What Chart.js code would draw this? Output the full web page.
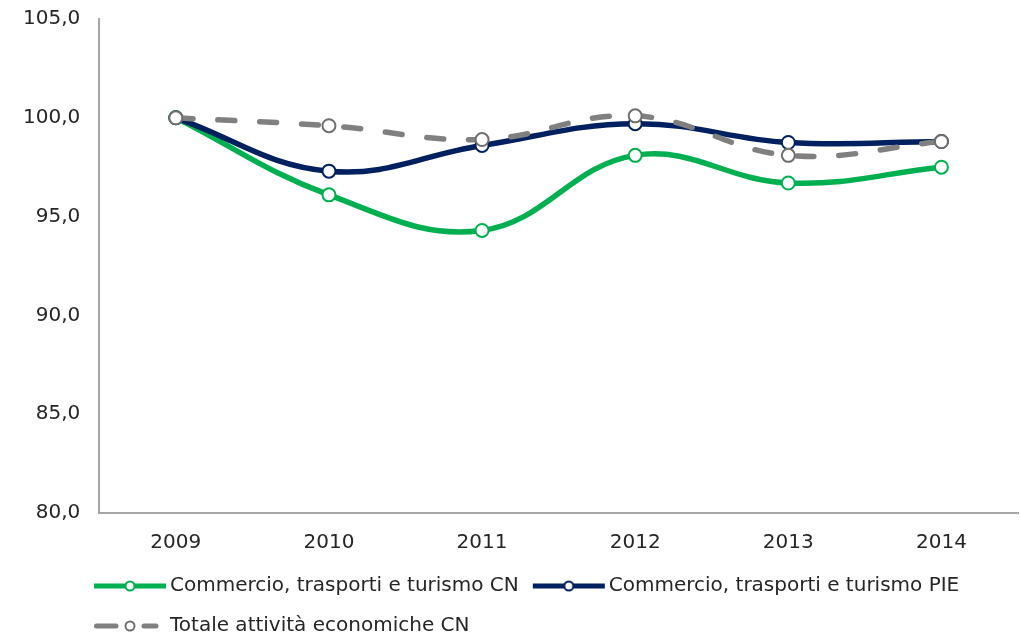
<!DOCTYPE html>
<html lang="it">
<head>
<meta charset="utf-8">
<title>Commercio, trasporti e turismo</title>
<script src="https://cdn.jsdelivr.net/npm/chart.js@4.4.1/dist/chart.umd.min.js"></script>
<style>
    html, body { margin: 0; padding: 0; background: #ffffff; }
    #chart { display: block; }
</style>
</head>
<body>
<canvas id="chart" width="1020" height="637"></canvas>
<script>
const years = ['2009', '2010', '2011', '2012', '2013', '2014'];
const commercioCN = [100.0, 96.1, 94.3, 98.1, 96.7, 97.5];
const commercioPIE = [100.0, 97.3, 98.6, 99.7, 98.75, 98.8];
const totaleCN = [100.0, 99.6, 98.9, 100.1, 98.1, 98.8];
const yTicks = [80, 85, 90, 95, 100, 105];

const green = '#00b050';
const navy = '#002060';
const gray = '#808080';
const grayPoint = '#6f6f6f';
const textColor = '#262626';
const fontFamily = "'DejaVu Sans', Verdana, sans-serif";

// Legend symbol: thick line with a small open circle in the middle
function legendIcon(color, ringColor, dashed) {
    const c = document.createElement('canvas');
    c.width = 76;
    c.height = 14;
    const g = c.getContext('2d');
    g.strokeStyle = color;
    g.lineWidth = 5;
    g.lineCap = dashed ? 'round' : 'butt';
    g.beginPath();
    if (dashed) {
        g.moveTo(4.5, 7); g.lineTo(24, 7);
        g.moveTo(52, 7); g.lineTo(64, 7);
    } else {
        g.moveTo(2, 7); g.lineTo(74, 7);
    }
    g.stroke();
    g.beginPath();
    g.arc(38, 7, 4.5, 0, Math.PI * 2);
    g.fillStyle = '#ffffff';
    g.fill();
    g.lineWidth = 2;
    g.strokeStyle = ringColor;
    g.stroke();
    return c;
}

const legendIcons = [
    legendIcon(green, green, false),
    legendIcon(navy, navy, false),
    legendIcon(gray, grayPoint, true)
];

// move the legend so that it lines up under the plot like the original
const legendShift = {
    id: 'legendShift',
    afterLayout(chart) {
        const lg = chart.legend;
        lg.left = 80;
        lg.top -= 17;
        lg.bottom -= 17;
    }
};

function seriesStyle(color, ring) {
    return {
        borderColor: color,
        backgroundColor: color,
        borderWidth: 5.5,
        tension: 0.4,
        pointRadius: 6.5,
        pointHoverRadius: 6.5,
        pointBackgroundColor: '#ffffff',
        pointBorderColor: ring,
        pointBorderWidth: 2,
        clip: false
    };
}

new Chart(document.getElementById('chart'), {
    type: 'line',
    data: {
        labels: years,
        datasets: [
            Object.assign({ label: 'Commercio, trasporti e turismo CN', data: commercioCN, order: 2 }, seriesStyle(green, green)),
            Object.assign({ label: 'Commercio, trasporti e turismo PIE', data: commercioPIE, order: 1 }, seriesStyle(navy, navy)),
            Object.assign({ label: 'Totale attività economiche CN', data: totaleCN, order: 0,
                borderDash: [17, 25], borderCapStyle: 'round' }, seriesStyle(gray, grayPoint))
        ]
    },
    options: {
        responsive: false,
        animation: false,
        devicePixelRatio: 1,
        layout: { autoPadding: false, padding: { top: 19, left: 4, right: 2, bottom: -26 } },
        scales: {
            x: {
                offset: true,
                grid: { display: false, drawTicks: false },
                border: { display: true, color: '#a6a6a6', width: 2 },
                ticks: { color: textColor, padding: 18, font: { family: fontFamily, size: 20 } }
            },
            y: {
                min: 80,
                max: 105,
                grid: { display: false, drawTicks: false },
                border: { display: true, color: '#a6a6a6', width: 2 },
                afterBuildTicks(scale) {
                    scale.ticks = yTicks.map(v => ({ value: v }));
                },
                afterFit(scale) {
                    // only keep room for half a label above the top tick
                    scale.paddingTop = 12;
                },
                ticks: {
                    color: textColor,
                    padding: 19,
                    font: { family: fontFamily, size: 20 },
                    callback: v => v.toFixed(1).replace('.', ',')
                }
            }
        },
        plugins: {
            tooltip: { enabled: false },
            legend: {
                position: 'bottom',
                align: 'start',
                labels: {
                    usePointStyle: true,
                    pointStyleWidth: 60,
                    padding: 20,
                    color: textColor,
                    font: { family: fontFamily, size: 20 },
                    generateLabels(chart) {
                        const items = Chart.defaults.plugins.legend.labels.generateLabels(chart);
                        items.forEach(it => { it.pointStyle = legendIcons[it.datasetIndex]; });
                        return items.sort((a, b) => a.datasetIndex - b.datasetIndex);
                    }
                }
            }
        }
    },
    plugins: [legendShift]
});
</script>
</body>
</html>
